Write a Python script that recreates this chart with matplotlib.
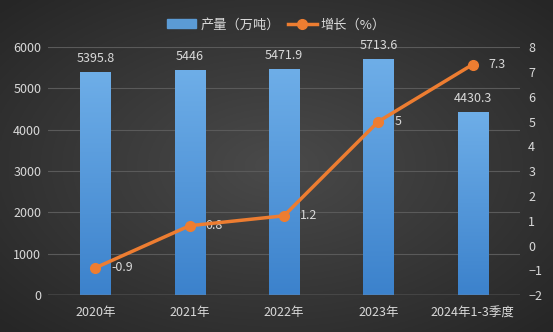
import numpy as np
import matplotlib.pyplot as plt
from matplotlib.patches import Rectangle
from matplotlib.colors import LinearSegmentedColormap

plt.rcParams['font.family'] = ['Noto Sans CJK SC', 'DejaVu Sans']

# data
years = ['2020年', '2021年', '2022年', '2023年', '2024年1-3季度']
output = [5395.8, 5446, 5471.9, 5713.6, 4430.3]
growth = [-0.9, 0.8, 1.2, 5, 7.3]

txt = '#d9d9d9'
fig = plt.figure(figsize=(5.53, 3.32), dpi=100)

# radial background, lighter in the middle
bg = fig.add_axes([0, 0, 1, 1], zorder=-10)
yy, xx = np.mgrid[-1:1:200j, -1:1:300j]
r = np.sqrt(xx**2 + yy**2)
shade = np.clip(r / 1.4, 0, 1)
c0 = np.array([0x4a, 0x4a, 0x4a]) / 255
c1 = np.array([0x26, 0x26, 0x26]) / 255
img = c0 + (c1 - c0) * shade[..., None]
bg.imshow(img, aspect='auto', extent=[0, 1, 0, 1])
bg.axis('off')

ax = fig.add_axes([0.087, 0.111, 0.853, 0.747])
ax.patch.set_alpha(0)
x = np.arange(len(years))
bars = ax.bar(x, output, width=0.32, color='#4a90d9', zorder=2)

# vertical gradient on bars
grad = np.linspace(0, 1, 100)[:, None]
cm = LinearSegmentedColormap.from_list('b', ['#3c82cc', '#6eaee8'])
for b in bars:
    im = ax.imshow(grad, cmap=cm, aspect='auto', origin='lower',
                   extent=[b.get_x(), b.get_x() + b.get_width(), 0, b.get_height()], zorder=2)
    im.set_clip_path(b)

for xi, v in zip(x, output):
    ax.text(xi, v + 320, f'{v:g}', ha='center', va='center', color=txt, fontsize=9)

ax.set_xlim(-0.5, len(years) - 0.5)
ax.set_ylim(0, 6000)
ax.set_yticks(range(0, 6001, 1000))
ax.grid(axis='y', color='#5a5a5a', lw=0.8, zorder=0)
ax.set_xticks(x)
ax.set_xticklabels(years, fontsize=9.5)
ax.tick_params(colors=txt, labelsize=9, length=0)
ax.tick_params(axis='x', pad=8)
ax.tick_params(axis='y', pad=5)
for s in ax.spines.values():
    s.set_visible(False)
ax.axhline(0, color='#8a8a8a', lw=1, zorder=3)

ax2 = ax.twinx()
ax2.plot(x, growth, color='#ed7d31', lw=2.5, marker='o', ms=7, zorder=5)
for xi, v in zip(x, growth):
    ax2.text(xi + 0.17, v, f'{v:g}', ha='left', va='center', color=txt, fontsize=9)
ax2.set_ylim(-2, 8)
ax2.set_yticks(range(-2, 9))
ax2.tick_params(colors=txt, labelsize=9, length=0, pad=6)
for s in ax2.spines.values():
    s.set_visible(False)

# legend
h1 = Rectangle((0, 0), 1, 1, color='#5b9bd5')
h2, = ax2.plot([], [], color='#ed7d31', lw=2.5, marker='o', ms=7)
fig.legend([h1, h2], ['产量（万吨）', '增长（%）'], loc='center', bbox_to_anchor=(0.5, 0.925),
           ncol=2, frameon=False, labelcolor=txt, fontsize=9.5, handlelength=2.2,
           columnspacing=0.6, handletextpad=0.3)

fig.savefig('out.png', dpi=100)
